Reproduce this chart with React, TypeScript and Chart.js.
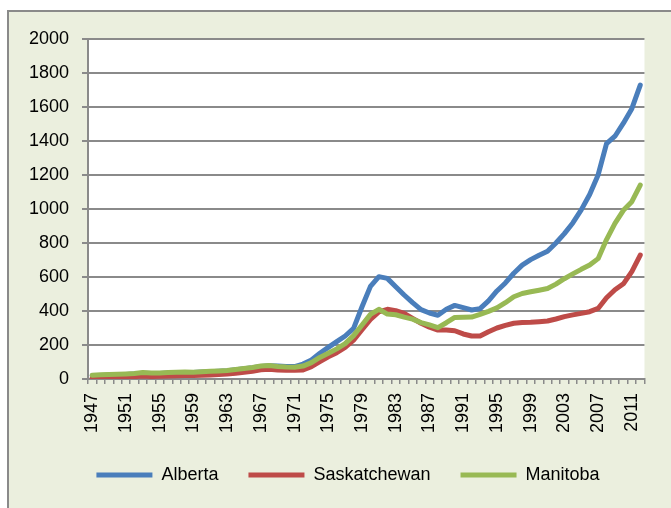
import React, { useEffect, useRef } from "react";
import { Chart, registerables } from "chart.js";

Chart.register(...registerables);

const years = [
  "1947", "1948", "1949", "1950", "1951", "1952", "1953", "1954", "1955", "1956",
  "1957", "1958", "1959", "1960", "1961", "1962", "1963", "1964", "1965", "1966",
  "1967", "1968", "1969", "1970", "1971", "1972", "1973", "1974", "1975", "1976",
  "1977", "1978", "1979", "1980", "1981", "1982", "1983", "1984", "1985", "1986",
  "1987", "1988", "1989", "1990", "1991", "1992", "1993", "1994", "1995", "1996",
  "1997", "1998", "1999", "2000", "2001", "2002", "2003", "2004", "2005", "2006",
  "2007", "2008", "2009", "2010", "2011", "2012",
];

const alberta = [
  18, 21, 23, 25, 27, 30, 34, 32, 33, 35,
  37, 38, 38, 41, 43, 45, 48, 54, 60, 66,
  74, 78, 76, 73, 73, 88, 112, 151, 186, 220,
  253, 298, 425, 545, 602, 592, 543, 494, 449, 408,
  388, 375, 410, 433, 420, 406, 414, 460, 518, 565,
  622, 670, 702, 728, 751, 800, 855, 918, 995, 1085,
  1200, 1384, 1428, 1505, 1590, 1729,
];

const saskatchewan = [
  8, 9, 10, 11, 12, 14, 17, 15, 16, 18,
  19, 20, 20, 22, 24, 26, 29, 34, 40, 46,
  54, 58, 53, 51, 51, 53, 73, 102, 131, 155,
  186, 229, 290, 350, 395, 410, 402, 386, 357, 328,
  305, 288, 288, 284, 265, 253, 253, 278, 300, 315,
  328, 333, 334, 337, 341, 353, 367, 377, 386, 396,
  415, 478, 525, 560, 632, 729,
];

const manitoba = [
  22, 25, 27, 28, 30, 33, 38, 35, 36, 38,
  40, 41, 40, 43, 45, 47, 50, 56, 62, 68,
  76, 80, 74, 70, 69, 76, 96, 127, 151, 177,
  208, 255, 318, 380, 410, 382, 378, 364, 352, 332,
  318, 302, 331, 362, 363, 364, 380, 398, 418, 449,
  484, 503, 513, 522, 532, 558, 590, 618, 645, 670,
  708, 820, 915, 992, 1043, 1141,
];

const yTicks = [0, 200, 400, 600, 800, 1000, 1200, 1400, 1600, 1800, 2000];

const GRID = "#8a8a8a";

const backgroundPlugin = {
  id: "bgPlugin",
  afterLayout(chart: any) {
    const lg = chart.legend;
    if (lg) {
      lg.left += 22;
      lg.right += 22;
    }
  },
  beforeDraw(chart: any) {
    const { ctx, width, height, chartArea } = chart;
    ctx.save();
    ctx.fillStyle = "#ffffff";
    ctx.fillRect(0, 0, width, height);
    ctx.fillStyle = "#ebefde";
    ctx.fillRect(7, 10, width - 7, height - 10);
    ctx.strokeStyle = "#8a8a8a";
    ctx.lineWidth = 2;
    ctx.beginPath();
    ctx.moveTo(8, height);
    ctx.lineTo(8, 11);
    ctx.lineTo(width, 11);
    ctx.stroke();
    ctx.fillStyle = "#ffffff";
    ctx.fillRect(chartArea.left, chartArea.top, chartArea.right - chartArea.left, chartArea.bottom - chartArea.top);
    ctx.restore();
  },
};

export default function App() {
  const ref = useRef<HTMLCanvasElement | null>(null);

  useEffect(() => {
    document.body.style.margin = "0";
    Chart.defaults.font.family = "'Liberation Sans', Arial, sans-serif";
    const ctx = ref.current!.getContext("2d")!;
    const chart = new Chart(ctx, {
      type: "line",
      data: {
        labels: years,
        datasets: [
          {
            label: "Alberta",
            data: alberta,
            borderColor: "#4a7ebb",
            backgroundColor: "#4a7ebb",
            borderWidth: 5,
            pointRadius: 0,
            borderCapStyle: "round",
            borderJoinStyle: "round",
            tension: 0,
            order: 3,
          },
          {
            label: "Saskatchewan",
            data: saskatchewan,
            borderColor: "#be4b48",
            backgroundColor: "#be4b48",
            borderWidth: 5,
            pointRadius: 0,
            borderCapStyle: "round",
            borderJoinStyle: "round",
            tension: 0,
            order: 2,
          },
          {
            label: "Manitoba",
            data: manitoba,
            borderColor: "#98b954",
            backgroundColor: "#98b954",
            borderWidth: 5,
            pointRadius: 0,
            borderCapStyle: "round",
            borderJoinStyle: "round",
            tension: 0,
            order: 1,
          },
        ],
      },
      options: {
        responsive: false,
        animation: false,
        devicePixelRatio: 1,
        layout: { padding: { left: 0, right: 19, top: 39, bottom: 14 } },
        plugins: {
          tooltip: { enabled: false },
          legend: {
            position: "bottom",
            labels: {
              usePointStyle: true,
              pointStyle: "line",
              pointStyleWidth: 56,
              padding: 30,
              color: "#000000",
              font: { size: 18 },
              sort: (a: any, b: any) => a.datasetIndex - b.datasetIndex,
            },
          },
        },
        scales: {
          x: {
            type: "category",
            offset: true,
            afterFit: (scale: any) => {
              scale.height = 57;
            },
            grid: {
              offset: true,
              drawOnChartArea: false,
              drawTicks: true,
              tickLength: 5,
              color: GRID,
              lineWidth: 1.5,
            },
            border: { color: GRID, width: 2 },
            ticks: {
              autoSkip: false,
              maxRotation: 90,
              minRotation: 90,
              padding: 9,
              color: "#000000",
              font: { size: 18 },
              callback: (_v: any, i: number) => (i % 4 === 0 ? years[i] : ""),
            },
          },
          y: {
            min: 0,
            max: 2000,
            afterFit: (scale: any) => {
              scale.width = 88;
            },
            afterBuildTicks: (scale: any) => {
              scale.ticks = yTicks.map((v) => ({ value: v }));
            },
            grid: {
              color: GRID,
              lineWidth: 2,
              drawTicks: true,
              tickLength: 6,
            },
            border: { color: GRID, width: 2 },
            ticks: {
              padding: 13,
              color: "#000000",
              font: { size: 18 },
              callback: (v: any) => String(v),
            },
          },
        },
      },
      plugins: [backgroundPlugin],
    });
    return () => chart.destroy();
  }, []);

  return (
    <div style={{ position: "relative", width: 671, height: 508 }}>
      <canvas ref={ref} width={671} height={508} style={{ display: "block" }} />
    </div>
  );
}
